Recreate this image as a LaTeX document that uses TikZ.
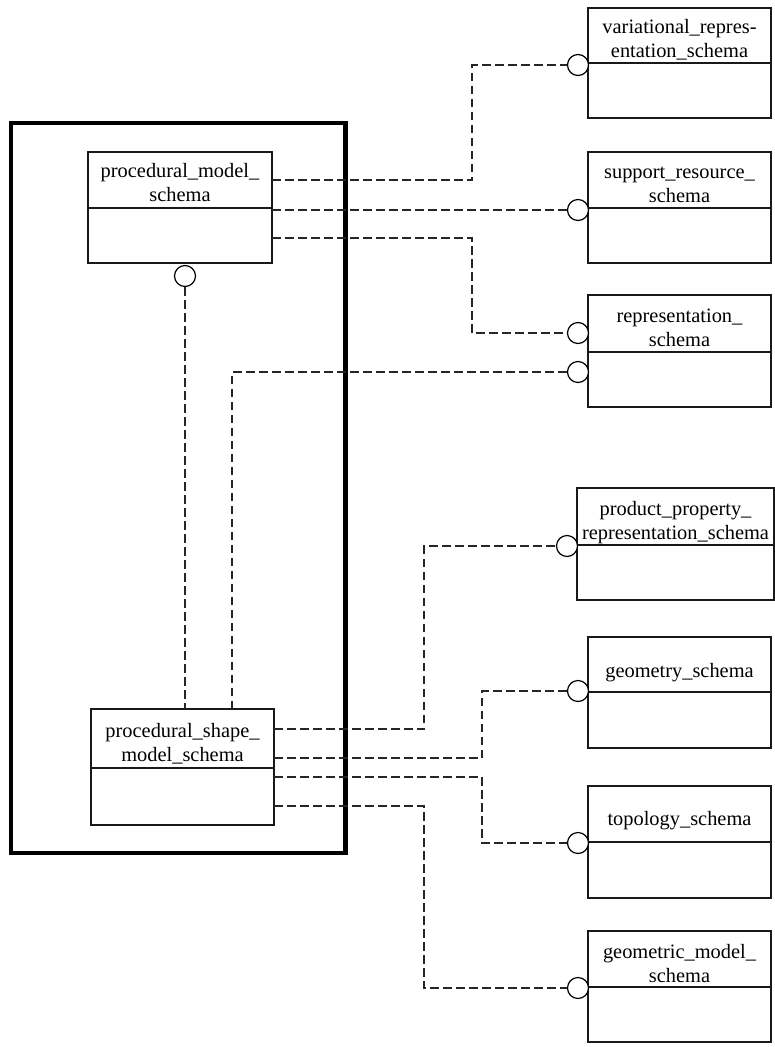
\documentclass[tikz,border=0pt]{standalone}
\usepackage{fontspec}
\setmainfont{Liberation Serif}
\newcommand\schemabox[6]{%
  \node[box, minimum width={#4-#2}, minimum height={#5-#3}] (#1h) at (#2,#3) {};
  \node[box, minimum width={#4-#2}, minimum height={#6-#5}] (#1b) at (#2,#5) {};}
\begin{document}
\begin{tikzpicture}[x=1pt,y=-1pt,
  box/.style={draw=black!90, line width=1.2pt, inner sep=0pt, outer sep=0pt, anchor=north west},
  frame/.style={draw=black, line width=4.5pt, inner sep=0pt, outer sep=0pt, anchor=north west},
  lab/.style={inner sep=0pt, anchor=north, align=center, font=\fontsize{20.4}{24}\selectfont},
  dl/.style={draw=black!85, line width=1.3pt, dash pattern=on 8.5pt off 4.5pt},
  port/.style={circle, draw=black, line width=1.2pt, fill=white, minimum size=21pt, inner sep=0pt}]
\useasboundingbox (0,0) rectangle (775,1047);

% thick frame
\node[frame, minimum width=334.7, minimum height=730] (frm) at (10.8,123) {};

% schema boxes: name, x1, y1, x2, ydiv, y2
\schemabox{var}{588}{8}{771}{63}{118}
\schemabox{sup}{588}{152}{771}{208}{263}
\schemabox{rep}{588}{295}{771}{352}{407}
\schemabox{prod}{577}{488}{774}{545}{600}
\schemabox{geom}{588}{637}{771}{692}{748}
\schemabox{topo}{588}{786}{771}{842}{898}
\schemabox{gm}{588}{931}{771}{987}{1042}
\schemabox{pm}{88}{152}{272}{208}{263}
\schemabox{psm}{91}{709}{274}{768}{825}

% labels
\node[lab] (vart) at (679.5,16.2) {\strut variational\_repres-\\entation\_schema};
\node[lab] (supt) at (679.5,161.2) {\strut support\_resource\_\\schema};
\node[lab] (rept) at (679.5,305.2) {\strut representation\_\\schema};
\node[lab] (prodt) at (675.5,498.2) {\strut product\_property\_\\representation\_schema};
\node[lab] (geomt) at (679.5,660.2) {\strut geometry\_schema};
\node[lab] (topot) at (679.5,808.2) {\strut topology\_schema};
\node[lab] (gmt) at (679.5,941.2) {\strut geometric\_model\_\\schema};
\node[lab] (pmt) at (180,160.2) {\strut procedural\_model\_\\schema};
\node[lab] (psmt) at (182.5,720.2) {\strut procedural\_shape\_\\model\_schema};

% ports
\node[port] (cvar) at (578,65) {};
\node[port] (csup) at (578,210) {};
\node[port] (crep1) at (578,333) {};
\node[port] (crep2) at (578,372) {};
\node[port] (cprod) at (567,546) {};
\node[port] (cgeom) at (578,691) {};
\node[port] (ctopo) at (578,843) {};
\node[port] (cgm) at (578,988) {};
\node[port] (cpm) at (185,276) {};

% connector ends and bends
\coordinate (pm1) at (272,180);
\coordinate (pm2) at (272,210);
\coordinate (pm3) at (272,238);
\coordinate (ps0) at (232,709);
\coordinate (ps1) at (274,729);
\coordinate (ps2) at (274,758);
\coordinate (ps3) at (274,777);
\coordinate (ps4) at (274,806);
\coordinate (k1) at (472,0);
\coordinate (k2) at (424,0);
\coordinate (k3) at (482,0);

% connectors
\draw[dl] (pm1) -| (k1 |- cvar) -- (cvar);
\draw[dl] (pm2) -- (csup);
\draw[dl] (pm3) -| (k1 |- crep1) -- (crep1);
\draw[dl] (cpm) -- (cpm |- psmh.north);
\draw[dl] (ps0) |- (crep2);
\draw[dl] (ps1) -| (k2 |- cprod) -- (cprod);
\draw[dl] (ps2) -| (k3 |- cgeom) -- (cgeom);
\draw[dl] (ps3) -| (k3 |- ctopo) -- (ctopo);
\draw[dl] (ps4) -| (k2 |- cgm) -- (cgm);
\end{tikzpicture}
\end{document}
